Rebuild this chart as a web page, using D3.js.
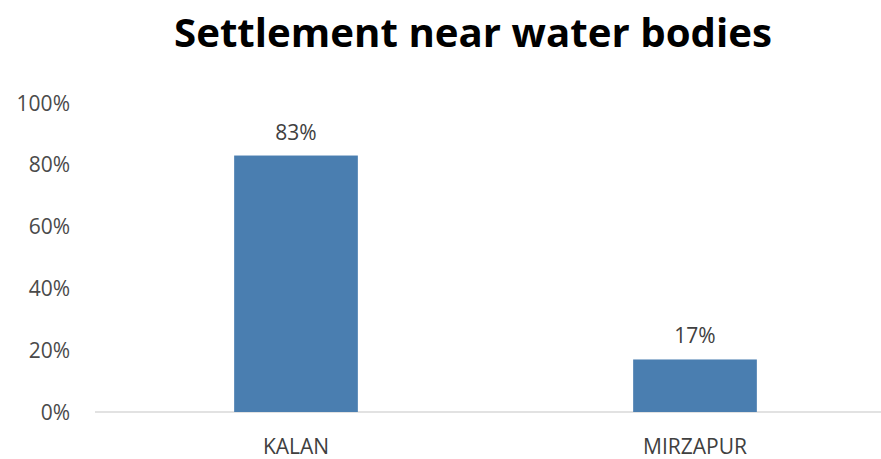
<!DOCTYPE html>
<html><head><meta charset="utf-8">
<script src="https://cdn.jsdelivr.net/npm/d3@7"></script>
<style>body{margin:0;background:#fff}svg{display:block}</style>
</head><body>
<script>
const categories = ["KALAN", "MIRZAPUR"];
const values = [0.83, 0.17];
const yTicks = [0, 0.2, 0.4, 0.6, 0.8, 1.0];
const title = "Settlement near water bodies";

const W = 881, H = 459;
const svg = d3.select("body").append("svg").attr("width", W).attr("height", H);

const x = d3.scaleBand().domain(categories).range([96.5, 894.5]).paddingInner(0).paddingOuter(0);
const y = d3.scaleLinear().domain([0, 1]).range([412, 103]);
const barW = x.bandwidth() * 0.31;
const font = "'Open Sans', sans-serif";

svg.append("text").attr("x", 473).attr("y", 47).attr("text-anchor", "middle")
  .attr("font-family", font).attr("font-weight", "bold")
  .attr("font-size", 40).attr("textLength", 598).attr("lengthAdjust", "spacingAndGlyphs")
  .attr("fill", "#000").text(title);

// axis line
svg.append("line").attr("x1", 95).attr("x2", W).attr("y1", y(0)).attr("y2", y(0))
  .attr("stroke", "#d9d9d9").attr("stroke-width", 1.5);

// y tick labels
svg.append("g").selectAll("text").data(yTicks).join("text")
  .attr("x", 70).attr("y", d => y(d)).attr("dy", "0.36em").attr("text-anchor", "end")
  .attr("font-family", font).attr("font-size", 21).attr("fill", "#4a4a4a")
  .text(d => d3.format(".0%")(d));

// bars
svg.append("g").selectAll("rect").data(values).join("rect")
  .attr("x", (d, i) => x(categories[i]) + x.bandwidth() / 2 - barW / 2)
  .attr("width", barW)
  .attr("y", d => y(d)).attr("height", d => y(0) - y(d))
  .attr("fill", "#4a7eb0");

// data labels
svg.append("g").selectAll("text").data(values).join("text")
  .attr("x", (d, i) => x(categories[i]) + x.bandwidth() / 2)
  .attr("y", d => y(d) - 16).attr("text-anchor", "middle")
  .attr("font-family", font).attr("font-size", 21).attr("fill", "#404040")
  .text(d => d3.format(".0%")(d));

// x labels
svg.append("g").selectAll("text").data(categories).join("text")
  .attr("x", d => x(d) + x.bandwidth() / 2).attr("y", 454).attr("text-anchor", "middle")
  .attr("font-family", font).attr("font-size", 21).attr("fill", "#404040")
  .text(d => d);
</script>
</body></html>
